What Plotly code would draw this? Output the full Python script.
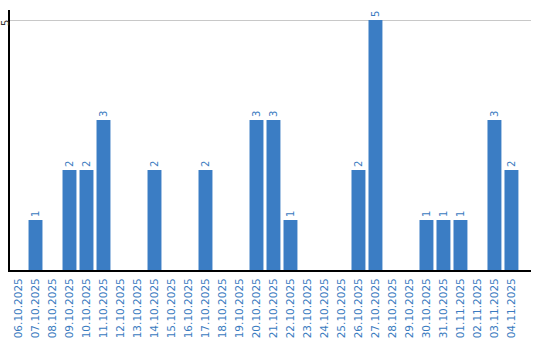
import plotly.graph_objects as go

dates = ["06.10.2025","07.10.2025","08.10.2025","09.10.2025","10.10.2025","11.10.2025",
         "12.10.2025","13.10.2025","14.10.2025","15.10.2025","16.10.2025","17.10.2025",
         "18.10.2025","19.10.2025","20.10.2025","21.10.2025","22.10.2025","23.10.2025",
         "24.10.2025","25.10.2025","26.10.2025","27.10.2025","28.10.2025","29.10.2025",
         "30.10.2025","31.10.2025","01.11.2025","02.11.2025","03.11.2025","04.11.2025"]
values = [0,1,0,2,2,3,0,0,2,0,0,2,0,0,3,3,1,0,0,0,2,5,0,0,1,1,1,0,3,2]
y_tick = 5

labels = [str(v) if v > 0 else "" for v in values]

fig = go.Figure(go.Bar(
    x=dates, y=values, text=labels, textposition="outside", textangle=-90,
    cliponaxis=False,
    marker=dict(color="#3b7dc4", line=dict(width=0)),
    textfont=dict(color="#3a7bc0", size=10, family="DejaVu Sans"),
    hoverinfo="skip",
))

fig.update_layout(
    width=540, height=340,
    margin=dict(l=10, r=9, t=10, b=70),
    plot_bgcolor="white", paper_bgcolor="white",
    bargap=0.18, showlegend=False,
    font=dict(family="DejaVu Sans", size=10, color="#3a7bc0"),
    annotations=[dict(
        x=0, xref="paper", y=y_tick, yref="y", text=str(y_tick), showarrow=False,
        textangle=-90, xanchor="center", yanchor="middle", xshift=-5, yshift=-3,
        borderpad=0, font=dict(size=10, color="#333333"),
    )],
)
fig.update_xaxes(
    type="category", range=[-0.5, 30.15], tickangle=-90,
    showline=True, linecolor="black", linewidth=2,
    showgrid=False, ticks="", tickfont=dict(size=10.5, color="#3a7bc0"),
    automargin=False, ticklabelstandoff=2,
)
fig.update_yaxes(
    range=[0, 5.2], tickvals=[y_tick], showticklabels=False,
    showgrid=True, gridcolor="#c8c8c8", gridwidth=1, zeroline=False,
    showline=True, linecolor="black", linewidth=2, ticks="",
    automargin=False,
)

fig.write_html("out.html")
